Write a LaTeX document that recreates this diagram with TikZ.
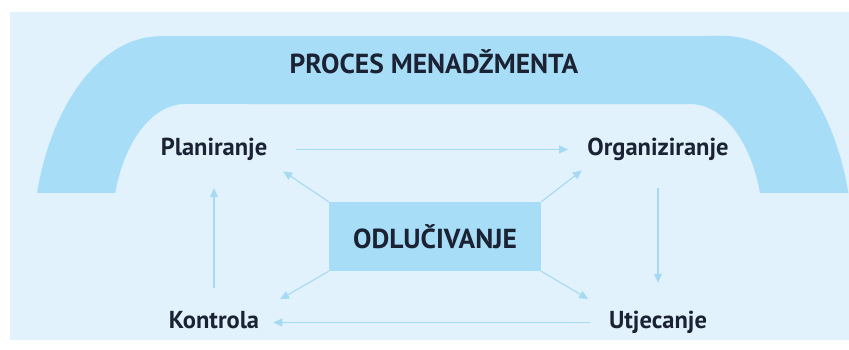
\documentclass[tikz,border=0pt]{standalone}
\usepackage{fontspec}
\setmainfont{PT Sans}
\usepackage{tikz}
\usetikzlibrary{arrows.meta}
\definecolor{bgblue}{HTML}{E1F2FC}
\definecolor{archblue}{HTML}{A8DDF7}
\definecolor{arrowblue}{HTML}{A6DAF3}
\definecolor{inkdark}{HTML}{1B2233}

\begin{document}
\begin{tikzpicture}[x=1pt,y=1pt,
    label/.style={font=\fontsize{24.5}{28}\selectfont\bfseries, text=inkdark, inner sep=0pt, text height=17pt, text depth=5pt},
    flow/.style={draw=arrowblue, line width=1.1pt, -{Triangle[length=9pt,width=8pt]}}]
    \useasboundingbox (0,0) rectangle (849,350);

    % Draw the light background
    \fill[bgblue] (10,10) rectangle (849,338);

    % Draw the arch
    \fill[archblue] (37,157) arc[start angle=164.5, end angle=90, x radius=128, y radius=214]
        -- (725,314) arc[start angle=90, end angle=15.5, x radius=128, y radius=214]
        -- (760,157) arc[start angle=17.1, end angle=90, x radius=73, y radius=126]
        -- (185,246) arc[start angle=90, end angle=162.9, x radius=73, y radius=126] -- cycle;
    \node[label, font=\fontsize{27.5}{32}\selectfont\bfseries] (title) at (434,282) {PROCES MENADŽMENTA};

    % Draw the box in the middle
    \node[fill=archblue, minimum width=212pt, minimum height=69pt, inner sep=0pt,
        font=\fontsize{27.5}{32}\selectfont\bfseries, text=inkdark] (odl) at (435,113.5) {ODLUČIVANJE};

    % Draw the four steps
    \node[label] (plan) at (214,200.5) {Planiranje};
    \node[label] (org) at (658,200.5) {Organiziranje};
    \node[label] (utj) at (658,27.5) {Utjecanje};
    \node[label] (kon) at (214,27.5) {Kontrola};

    % Draw the cycle arrows
    \draw[flow, shorten <=29pt, shorten >=19pt] (plan.east) -- (org.west);
    \draw[flow, shorten <=27.5pt, shorten >=28.5pt] (org.south) -- (utj.north);
    \draw[flow, shorten <=19pt, shorten >=14pt] (utj.west) -- (kon.east);
    \draw[flow, shorten <=23.5pt, shorten >=27.5pt] (kon.north) -- (plan.south);

    % Draw the arrows from the box
    \draw[flow, shorten >=19pt] (odl.north west) -- (plan.south east);
    \draw[flow, shorten >=16pt] (odl.north east) -- (org.190);
    \draw[flow, shorten >=24pt] (odl.south west) -- (kon.north east);
    \draw[flow, shorten >=24pt] (odl.south east) -- (utj.north west);
\end{tikzpicture}
\end{document}
